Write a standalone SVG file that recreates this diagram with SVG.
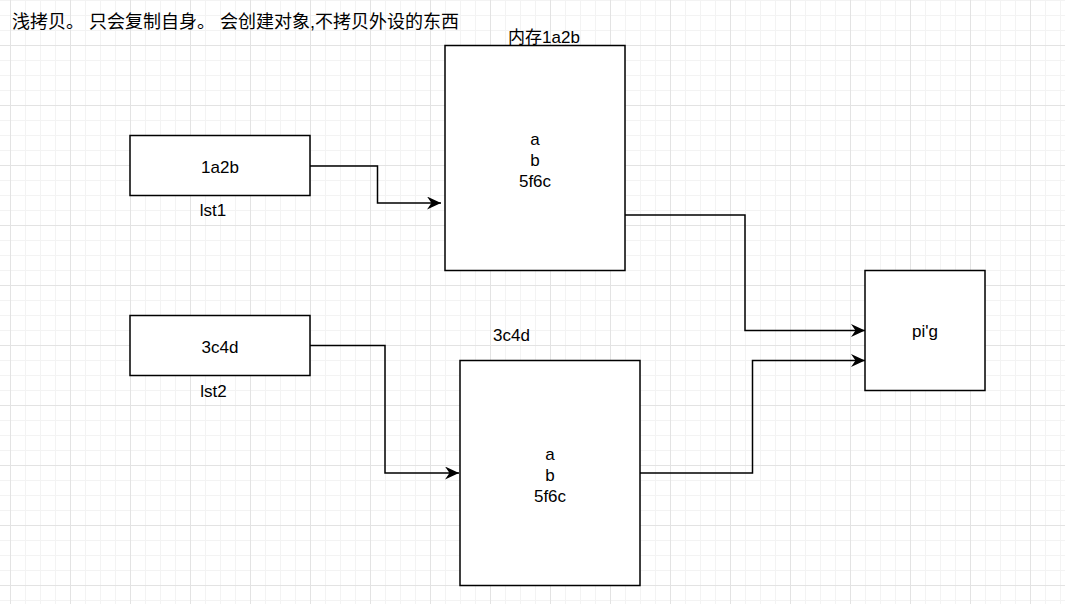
<svg xmlns="http://www.w3.org/2000/svg" width="1065" height="604" viewBox="0 0 1065 604">
<style>
.box{fill:#fff;stroke:#000;stroke-width:1.5}
.t{font-family:"Liberation Sans","Noto Sans CJK SC",Arial,sans-serif;font-size:17px;fill:#000;text-anchor:middle}
.title{font-family:"Liberation Sans","Noto Sans CJK SC",sans-serif;font-size:18px;fill:#000}
.edge{fill:none;stroke:#000;stroke-width:1.5}
</style>
<defs>
<pattern id="grid" patternUnits="userSpaceOnUse" x="10" y="45" width="60" height="60">
<path d="M15.5 0V60M30.5 0V60M45.5 0V60M0 15.5H60M0 30.5H60M0 45.5H60" stroke="#f3f3f3" stroke-width="1" fill="none"/>
<path d="M0.5 0V60M0 0.5H60" stroke="#e3e3e3" stroke-width="1" fill="none"/>
</pattern>
<marker id="arr" viewBox="0 0 14 13" refX="14" refY="6.5" markerWidth="14" markerHeight="13" markerUnits="userSpaceOnUse" orient="auto">
<path d="M14 6.5L0 0L4.5 6.5L0 13Z" fill="#000"/>
</marker>
</defs>
<rect width="1065" height="604" fill="#fff"/>
<rect width="1065" height="604" fill="url(#grid)"/>
<text class="title" x="12" y="28">浅拷贝。 只会复制自身。 会创建对象,不拷贝外设的东西</text>
<g id="connectors">
<path class="edge" d="M310 166H377.5V203H441" marker-end="url(#arr)"/>
<path class="edge" d="M625 215H745V330.5H865" marker-end="url(#arr)"/>
<path class="edge" d="M310 345.5H385V473H459" marker-end="url(#arr)"/>
<path class="edge" d="M640 473H752.5V360.5H865" marker-end="url(#arr)"/>
</g>
<g id="lst1">
<rect class="box" x="130" y="135.5" width="180" height="60"/>
<text class="t" x="220" y="172.5">1a2b</text>
<text class="t" x="213" y="216">lst1</text>
</g>
<g id="lst2">
<rect class="box" x="130" y="315.5" width="180" height="60"/>
<text class="t" x="220" y="352.5">3c4d</text>
<text class="t" x="213.5" y="396.5">lst2</text>
</g>
<g id="mem1">
<rect class="box" x="445" y="45.5" width="180" height="225"/>
<text class="t" x="544" y="42.5">内存1a2b</text>
<text class="t" x="535" y="145">a</text>
<text class="t" x="535" y="166">b</text>
<text class="t" x="535" y="187">5f6c</text>
</g>
<g id="mem2">
<rect class="box" x="460" y="360.5" width="180" height="225"/>
<text class="t" x="511.5" y="340.5">3c4d</text>
<text class="t" x="550" y="460">a</text>
<text class="t" x="550" y="481">b</text>
<text class="t" x="550" y="502">5f6c</text>
</g>
<g id="pig">
<rect class="box" x="865" y="270.5" width="120" height="120"/>
<text class="t" x="925" y="337">pi'g</text>
</g>
</svg>
